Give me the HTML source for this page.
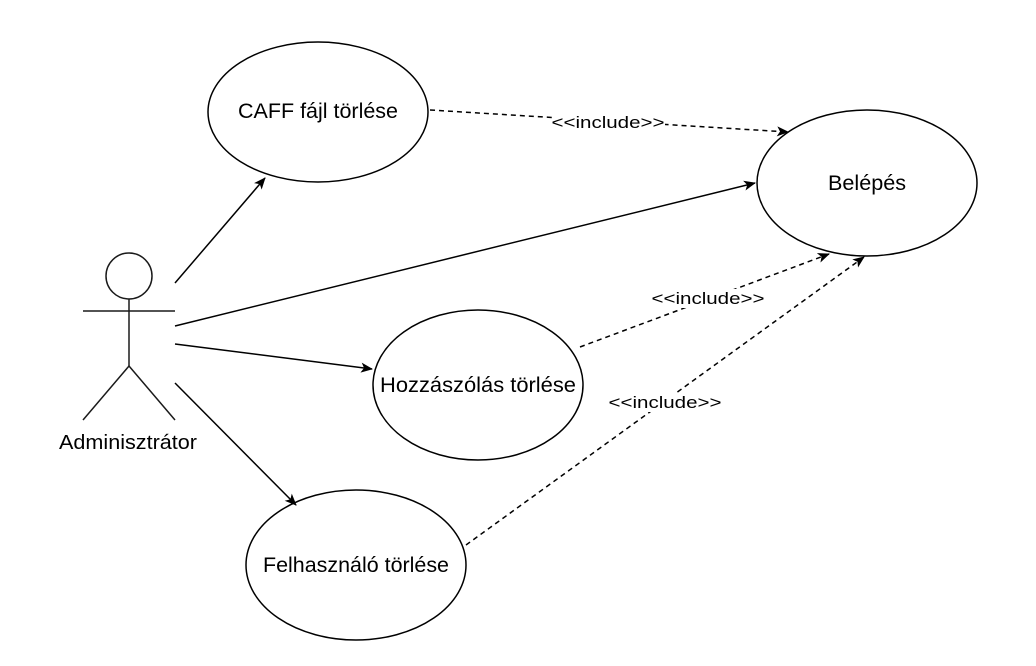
<!DOCTYPE html>
<html><head><meta charset="utf-8"><style>
html,body{margin:0;padding:0;background:#fff;}
svg{display:block;}
text{font-family:"Liberation Sans",Helvetica,Arial,sans-serif;fill:#000;}
</style></head><body>
<svg width="1036" height="666" viewBox="0 0 1036 666" xmlns="http://www.w3.org/2000/svg">
<defs>
<marker id="a" viewBox="0 0 12 10" refX="11" refY="5" markerWidth="12" markerHeight="10" markerUnits="userSpaceOnUse" orient="auto">
<path d="M0,0 L12,5 L0,10 L3,5 Z" fill="#000"/>
</marker>
</defs>
<g fill="#fff" stroke="#000" stroke-width="1.5">
<ellipse cx="318" cy="112" rx="110" ry="70"/>
<ellipse cx="867" cy="183" rx="110" ry="73"/>
<ellipse cx="478" cy="385" rx="105" ry="75"/>
<ellipse cx="356" cy="565" rx="110" ry="75"/>
</g>
<g stroke="#1a1a1a" stroke-width="1.5" fill="none">
<circle cx="129" cy="276" r="23"/>
<line x1="129" y1="299" x2="129" y2="366"/>
<line x1="83" y1="311" x2="175" y2="311"/>
<line x1="129" y1="366" x2="83" y2="420"/>
<line x1="129" y1="366" x2="175" y2="420"/>
</g>
<text x="128" y="449" font-size="20" text-anchor="middle" textLength="138" lengthAdjust="spacingAndGlyphs">Adminisztrátor</text>
<g stroke="#000" stroke-width="1.5" fill="none" marker-end="url(#a)">
<line x1="175" y1="283" x2="265" y2="178"/>
<line x1="175" y1="326" x2="755" y2="183"/>
<line x1="175" y1="344" x2="372" y2="369"/>
<line x1="175" y1="383" x2="296" y2="505"/>
</g>
<g stroke="#000" stroke-width="1.5" fill="none" stroke-dasharray="5,4" marker-end="url(#a)">
<line x1="430" y1="110" x2="788" y2="132"/>
<line x1="580" y1="347" x2="829" y2="254"/>
<line x1="466" y1="545" x2="864" y2="257"/>
</g>
<g font-size="17" text-anchor="middle" lengthAdjust="spacingAndGlyphs">
<rect x="552" y="114" width="113" height="19" fill="#fff"/>
<text x="608" y="128" textLength="113" lengthAdjust="spacingAndGlyphs">&lt;&lt;include&gt;&gt;</text>
<rect x="652" y="289" width="113" height="19" fill="#fff"/>
<text x="708" y="304" textLength="113" lengthAdjust="spacingAndGlyphs">&lt;&lt;include&gt;&gt;</text>
<rect x="609" y="393" width="113" height="19" fill="#fff"/>
<text x="665" y="408" textLength="113" lengthAdjust="spacingAndGlyphs">&lt;&lt;include&gt;&gt;</text>
</g>
<g font-size="21" text-anchor="middle">
<text x="318" y="118" textLength="160" lengthAdjust="spacingAndGlyphs">CAFF fájl törlése</text>
<text x="867" y="190" textLength="78" lengthAdjust="spacingAndGlyphs">Belépés</text>
<text x="478" y="392" textLength="196" lengthAdjust="spacingAndGlyphs">Hozzászólás törlése</text>
<text x="356" y="572" textLength="186" lengthAdjust="spacingAndGlyphs">Felhasználó törlése</text>
</g>
</svg>
</body></html>
